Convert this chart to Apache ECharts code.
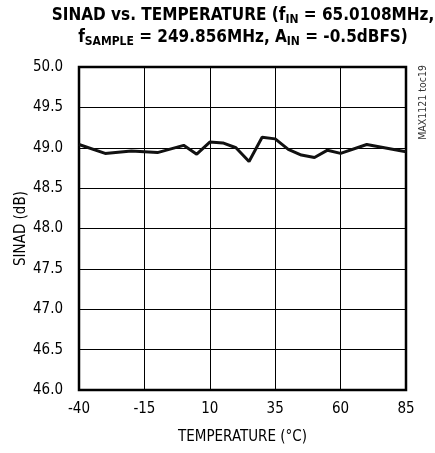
<!DOCTYPE html>
<html><head><meta charset="utf-8">
<script src="https://cdn.jsdelivr.net/npm/echarts@6/dist/echarts.min.js"></script>
<style>html,body{margin:0;padding:0;background:#fff}#c{width:435px;height:453px}</style>
</head><body><div id="c"></div>
<script>
const temps = [-40,-30,-20,-15,-10,0,5,10,15,20,25,30,35,40,45,50,55,60,70,85];
const sinad = [49.04,48.93,48.96,48.95,48.94,49.03,48.92,49.07,49.06,49.00,48.83,49.13,49.11,48.98,48.91,48.88,48.97,48.93,49.04,48.95];
const xTicks = [-40,-15,10,35,60,85];
const yTicks = [46.0,46.5,47.0,47.5,48.0,48.5,49.0,49.5,50.0];

const FONT = "'DejaVu Sans Condensed','Liberation Sans Narrow',sans-serif";
const chart = echarts.init(document.getElementById('c'), null, {renderer:'canvas'});
chart.setOption({
  animation:false,
  backgroundColor:'#fff',
  title:{
    left:238, textAlign:'center', top:0,
    text:'{b|SINAD }{s|vs}{b|. TEMPERATURE (f}{sub|IN}{b| = 65.0108MHz,}\n{b|f}{sub|SAMPLE}{b| = 249.856MHz, A}{sub|IN}{b| = -0.5dBFS)}',
    textStyle:{
      rich:{
        b:{fontFamily:FONT,fontWeight:'bold',fontSize:17,color:'#000',lineHeight:22},
        s:{fontFamily:FONT,fontWeight:'bold',fontSize:17,color:'#000',lineHeight:22},
        sub:{fontFamily:FONT,fontWeight:'bold',fontSize:12,color:'#000',lineHeight:22,padding:[8,0,0,0]}
      }
    }
  },
  grid:{left:79,right:29,top:67,bottom:63,show:true,borderColor:'#000',borderWidth:2.5,backgroundColor:'transparent'},
  xAxis:{
    type:'value',min:-40,max:85,interval:25,
    name:'TEMPERATURE (°C)',nameLocation:'middle',nameGap:40,
    nameTextStyle:{fontFamily:FONT,fontSize:15,color:'#000'},
    axisLine:{show:false},axisTick:{show:false},
    axisLabel:{fontFamily:FONT,fontSize:15,color:'#000',margin:12},
    splitLine:{show:true,lineStyle:{color:'#000',width:1}}
  },
  yAxis:{
    type:'value',min:46,max:50,interval:0.5,
    name:'SINAD (dB)',nameLocation:'middle',nameGap:50,nameRotate:90,nameMoveOverlap:false,
    nameTextStyle:{fontFamily:FONT,fontSize:15,color:'#000'},
    axisLine:{show:false},axisTick:{show:false},
    axisLabel:{fontFamily:FONT,fontSize:15,color:'#000',margin:16,formatter:v=>v.toFixed(1)},
    splitLine:{show:true,lineStyle:{color:'#000',width:1}}
  },
  graphic:[{
    type:'text',left:418,top:65,rotation:Math.PI/2,
    style:{text:'MAX1121 toc19',fontFamily:FONT,fontSize:10.5,fill:'#333'}
  }],
  series:[{
    type:'line',data:temps.map((t,i)=>[t,sinad[i]]),
    showSymbol:false,lineStyle:{color:'#111',width:3},z:5
  }]
});
</script></body></html>
